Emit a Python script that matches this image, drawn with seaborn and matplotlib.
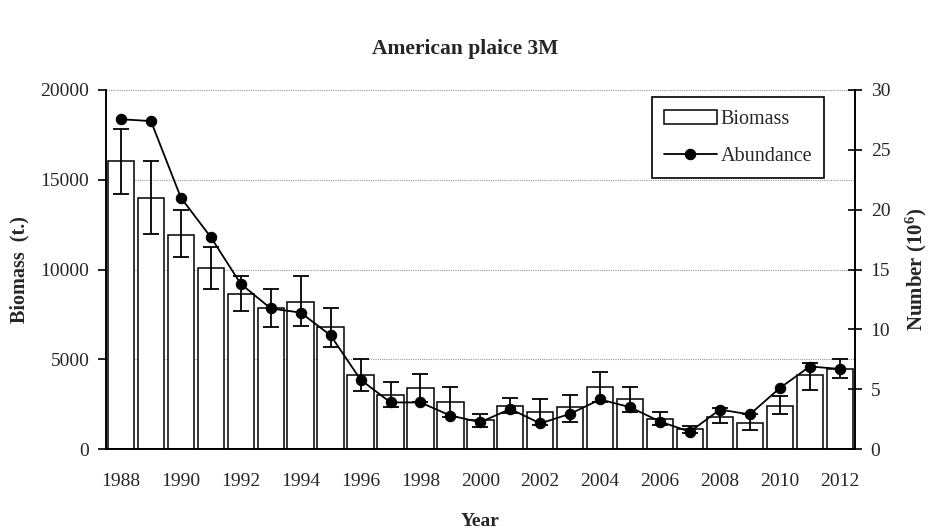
import matplotlib

matplotlib.use("Agg")
import matplotlib.pyplot as plt
import numpy as np
import pandas as pd
import seaborn as sns
from matplotlib.ticker import FixedLocator, MultipleLocator


years = list(range(1988, 2013))
biomass = [16050, 14000, 11950, 10070, 8650, 7840, 8200, 6780, 4120, 3030,
           3400, 2600, 1620, 2410, 2060, 2340, 3470, 2790, 1690, 1100,
           1800, 1430, 2410, 4120, 4460]
biomass_hi = [17840, 16060, 13300, 11270, 9640, 8910, 9640, 7840, 5000, 3750,
              4200, 3470, 1950, 2860, 2770, 3030, 4290, 3470, 2060, 1300,
              2280, 1950, 2950, 4770, 5000]
biomass_lo = [14200, 11960, 10710, 8910, 7690, 6780, 6870, 5700, 3230, 2360,
              2650, 1800, 1240, 1990, 1350, 1520, 2650, 2080, 1320, 900,
              1460, 1060, 1950, 3290, 3940]
abundance = [27.55, 27.4, 21.0, 17.7, 13.8, 11.75, 11.4, 9.5, 5.8, 3.9,
             3.9, 2.8, 2.25, 3.35, 2.15, 2.95, 4.15, 3.5, 2.3, 1.45,
             3.3, 2.9, 5.1, 6.9, 6.7]
year_labels = [str(y) if y % 2 == 0 else "" for y in years]


def main() -> None:
    sns.set_style("white")
    plt.rcParams["font.family"] = ["Liberation Serif", "DejaVu Serif"]
    plt.rcParams["mathtext.default"] = "regular"

    df = pd.DataFrame({"year": [str(y) for y in years], "biomass": biomass, "abundance": abundance})
    pos = np.arange(len(years))

    fig = plt.figure(figsize=(9.3, 5.29), dpi=100)
    ax = fig.add_axes([0.114, 0.151, 0.805, 0.679])

    sns.barplot(data=df, x="year", y="biomass", color="white", edgecolor="black",
                linewidth=1.1, width=0.88, ax=ax, label="Biomass", zorder=2)
    yerr = [np.array(biomass) - np.array(biomass_lo), np.array(biomass_hi) - np.array(biomass)]
    ax.errorbar(pos, biomass, yerr=yerr, fmt="none", ecolor="black", elinewidth=1.3,
                capsize=6, capthick=1.3, zorder=3)

    ax.set_ylim(0, 20000)
    ax.set_xlim(-0.5, len(years) - 0.5)
    ax.yaxis.set_major_locator(MultipleLocator(5000))
    ax.grid(axis="y", color="#999999", linestyle=(0, (1, 1)), linewidth=0.8)
    ax.set_axisbelow(True)
    ax.set_xticks(pos)
    ax.set_xticklabels(year_labels)
    ax.xaxis.set_minor_locator(FixedLocator(pos - 0.5))
    ax.tick_params(axis="x", which="major", length=0, pad=17, labelsize=14)
    ax.tick_params(axis="x", which="minor", length=6, width=1.2, direction="out", color="black")
    ax.tick_params(axis="y", length=6, width=1.2, pad=6, direction="out", color="black", labelsize=14, left=True)
    ax.set_xlabel("Year", fontweight="bold", fontsize=14)
    ax.xaxis.set_label_coords(0.5, -0.178)
    ax.set_ylabel("Biomass  (t.)", fontweight="bold", fontsize=14.5, labelpad=8)

    ax2 = ax.twinx()
    sns.lineplot(x=pos, y=abundance, ax=ax2, color="black", marker="o", markersize=7.5,
                 markeredgecolor="black", linewidth=1.3, label="Abundance", zorder=4)
    ax2.set_ylim(0, 30)
    ax2.yaxis.set_major_locator(MultipleLocator(5))
    ax2.tick_params(axis="y", length=10, width=1.2, pad=6.5, direction="inout", color="black",
                    labelsize=14, right=True)
    ax2.set_ylabel("Number (10$^{6}$)", fontweight="bold", fontsize=15, labelpad=10)

    for a in (ax, ax2):
        a.spines["top"].set_visible(False)
        for s in ("left", "right", "bottom"):
            a.spines[s].set_color("black")
            a.spines[s].set_linewidth(1.2)

    h1, l1 = ax.get_legend_handles_labels()
    h2, l2 = ax2.get_legend_handles_labels()
    if ax.get_legend() is not None:
        ax.get_legend().remove()
    leg = ax2.legend(h1 + h2, l1 + l2, loc="upper right", bbox_to_anchor=(0.973, 1.007),
                     fancybox=False, edgecolor="black", fontsize=14.5, framealpha=1,
                     borderpad=0.6, labelspacing=0.9, handlelength=2.6, handletextpad=0.2)
    leg.get_frame().set_linewidth(1.2)

    fig.suptitle("American plaice 3M", fontweight="bold", fontsize=15.5, x=0.5, y=0.908, va="center")
    fig.savefig("out.png", dpi=100)
    plt.close(fig)


if __name__ == "__main__":
    main()
